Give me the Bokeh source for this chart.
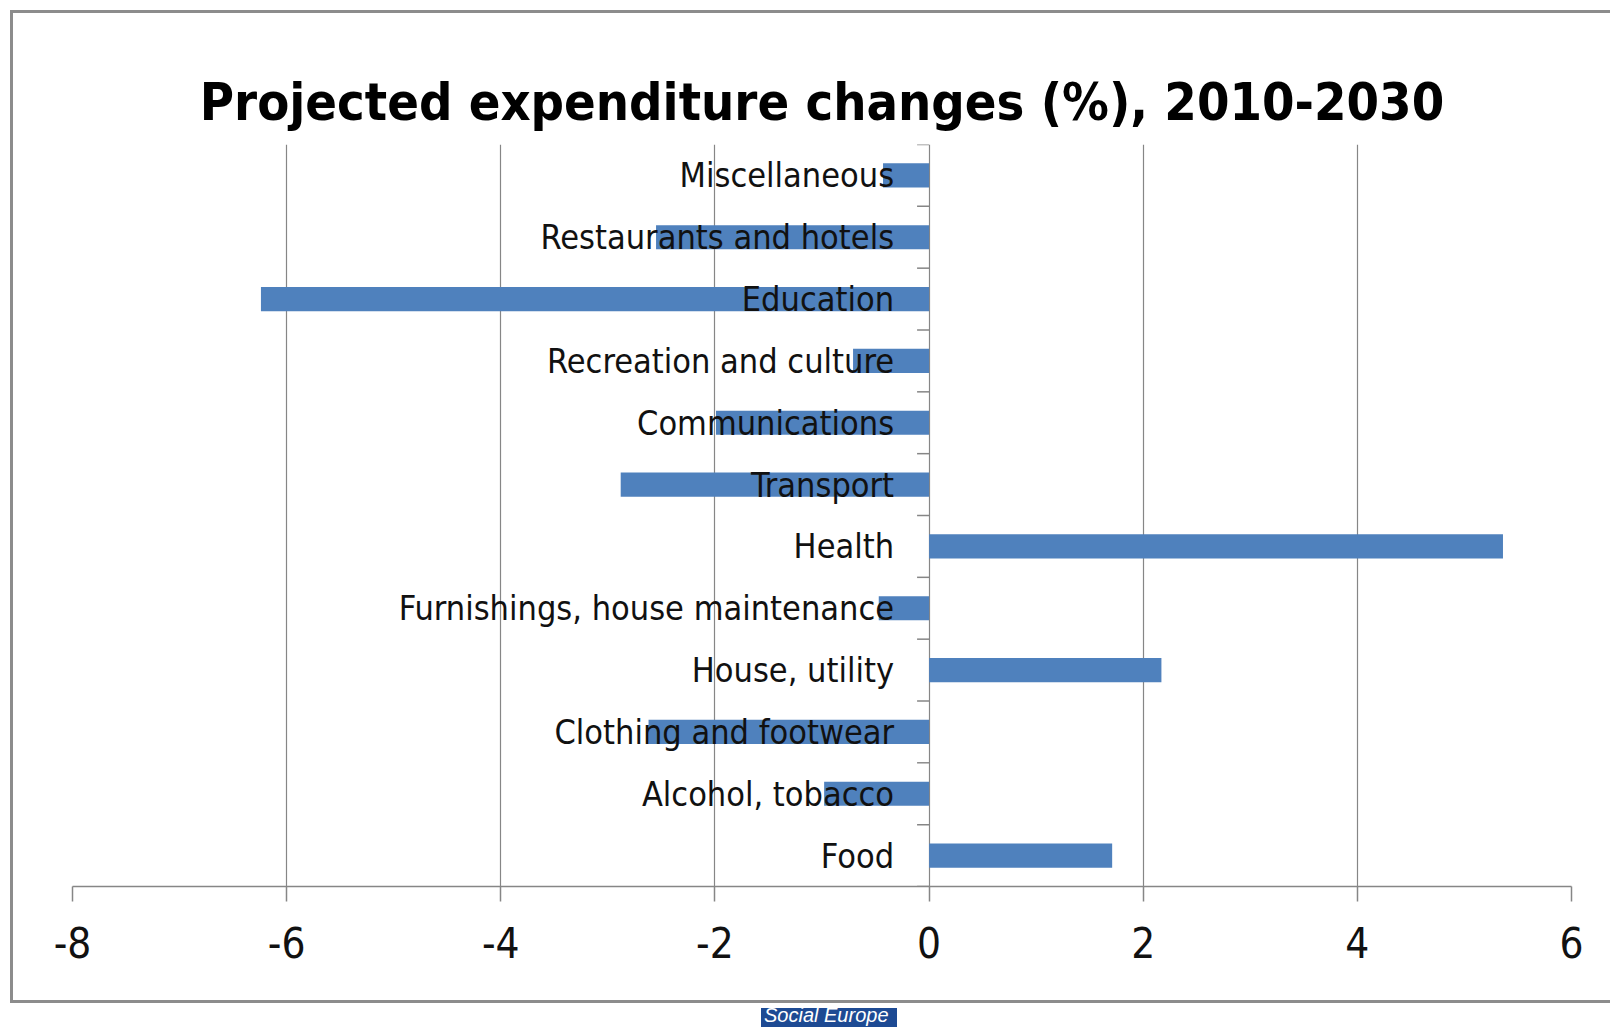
from bokeh.plotting import figure
from bokeh.models import Range1d, FactorRange, FixedTicker, NumeralTickFormatter, Div
from bokeh.layouts import column
from bokeh.core.properties import value
from bokeh.embed import file_html
from bokeh.resources import INLINE

categories = ["Food", "Alcohol, tobacco", "Clothing and footwear", "House, utility",
              "Furnishings, house maintenance", "Health", "Transport", "Communications",
              "Recreation and culture", "Education", "Restaurants and hotels", "Miscellaneous"]
changes = [1.71, -0.98, -2.62, 2.17, -0.47, 5.36, -2.88, -1.99, -0.71, -6.24, -2.55, -0.43]
x_ticks = [-8, -6, -4, -2, 0, 2, 4, 6]
title_text = "Projected expenditure changes (%), 2010-2030"
source_text = "Social Europe"

FONT = "DejaVu Sans Condensed, sans-serif"
GRID = "#868686"
BORDER = "#8C8C8C"
W, H = 1610, 1003

# chart border drawn as host-element background behind a transparent canvas border
g = f"linear-gradient({BORDER},{BORDER})"
border_css = (f"{g} 10px 10px / 3px 993px no-repeat, "
              f"{g} 10px 10px / 1620px 3px no-repeat, "
              f"{g} 10px 1000px / 1620px 3px no-repeat, #ffffff")

p = figure(width=W, height=H, output_backend="svg", toolbar_location=None,
           x_range=Range1d(-8, 6), y_range=FactorRange(factors=categories),
           min_border_left=72, min_border_right=39, min_border_top=144, min_border_bottom=117,
           styles={"background": border_css})

p.title.text = title_text
p.title.text_font = FONT
p.title.text_font_size = "52px"
p.title.text_font_style = "bold"
p.title.text_color = "#000000"
p.title.align = "center"
p.title.standoff = 25

p.outline_line_color = None
p.background_fill_color = "white"
p.border_fill_color = None

p.hbar(y=categories, left=0, right=changes, height=0.39, fill_color="#4F81BD", line_color=None)

# small category-boundary ticks on the zero axis
bounds = [(c, -0.5) for c in categories] + [(categories[-1], 0.5)]
p.ray(x=[0] * len(bounds), y=bounds, length=12, length_units="screen", angle=3.14159265,
      line_color=GRID, line_width=1.5)

p.text(x=[0] * len(categories), y=categories, text=categories, x_offset=-35,
       text_align="right", text_baseline="middle", text_font=value(FONT),
       text_font_size="34px", text_color="#111111")

p.yaxis.visible = False
p.ygrid.visible = False
p.xgrid.grid_line_color = GRID
p.xgrid.grid_line_width = 1.2
p.xaxis.ticker = FixedTicker(ticks=x_ticks)
p.xaxis.formatter = NumeralTickFormatter(format="0")
p.xaxis.axis_line_color = GRID
p.xaxis.axis_line_width = 1.5
p.xaxis.major_tick_line_color = GRID
p.xaxis.major_tick_line_width = 1.5
p.xaxis.major_tick_in = 0
p.xaxis.major_tick_out = 15
p.xaxis.minor_tick_line_color = None
p.xaxis.major_label_text_font = FONT
p.xaxis.major_label_text_font_size = "42px"
p.xaxis.major_label_text_color = "#111111"
p.xaxis.major_label_standoff = 25

badge = Div(width=W, height=24,
            text=(f'<div style="margin-left:756px;width:136px;height:24px;background:#1D4A93;'
                  f'color:#ffffff;font:italic 20px \'Liberation Sans\',Arial,sans-serif;'
                  f'line-height:14px;padding-left:3px;box-sizing:border-box;'
                  f'white-space:nowrap">{source_text}</div>'))

layout = column(p, badge, spacing=0)
open("out.html", "w").write(file_html(layout, INLINE))
